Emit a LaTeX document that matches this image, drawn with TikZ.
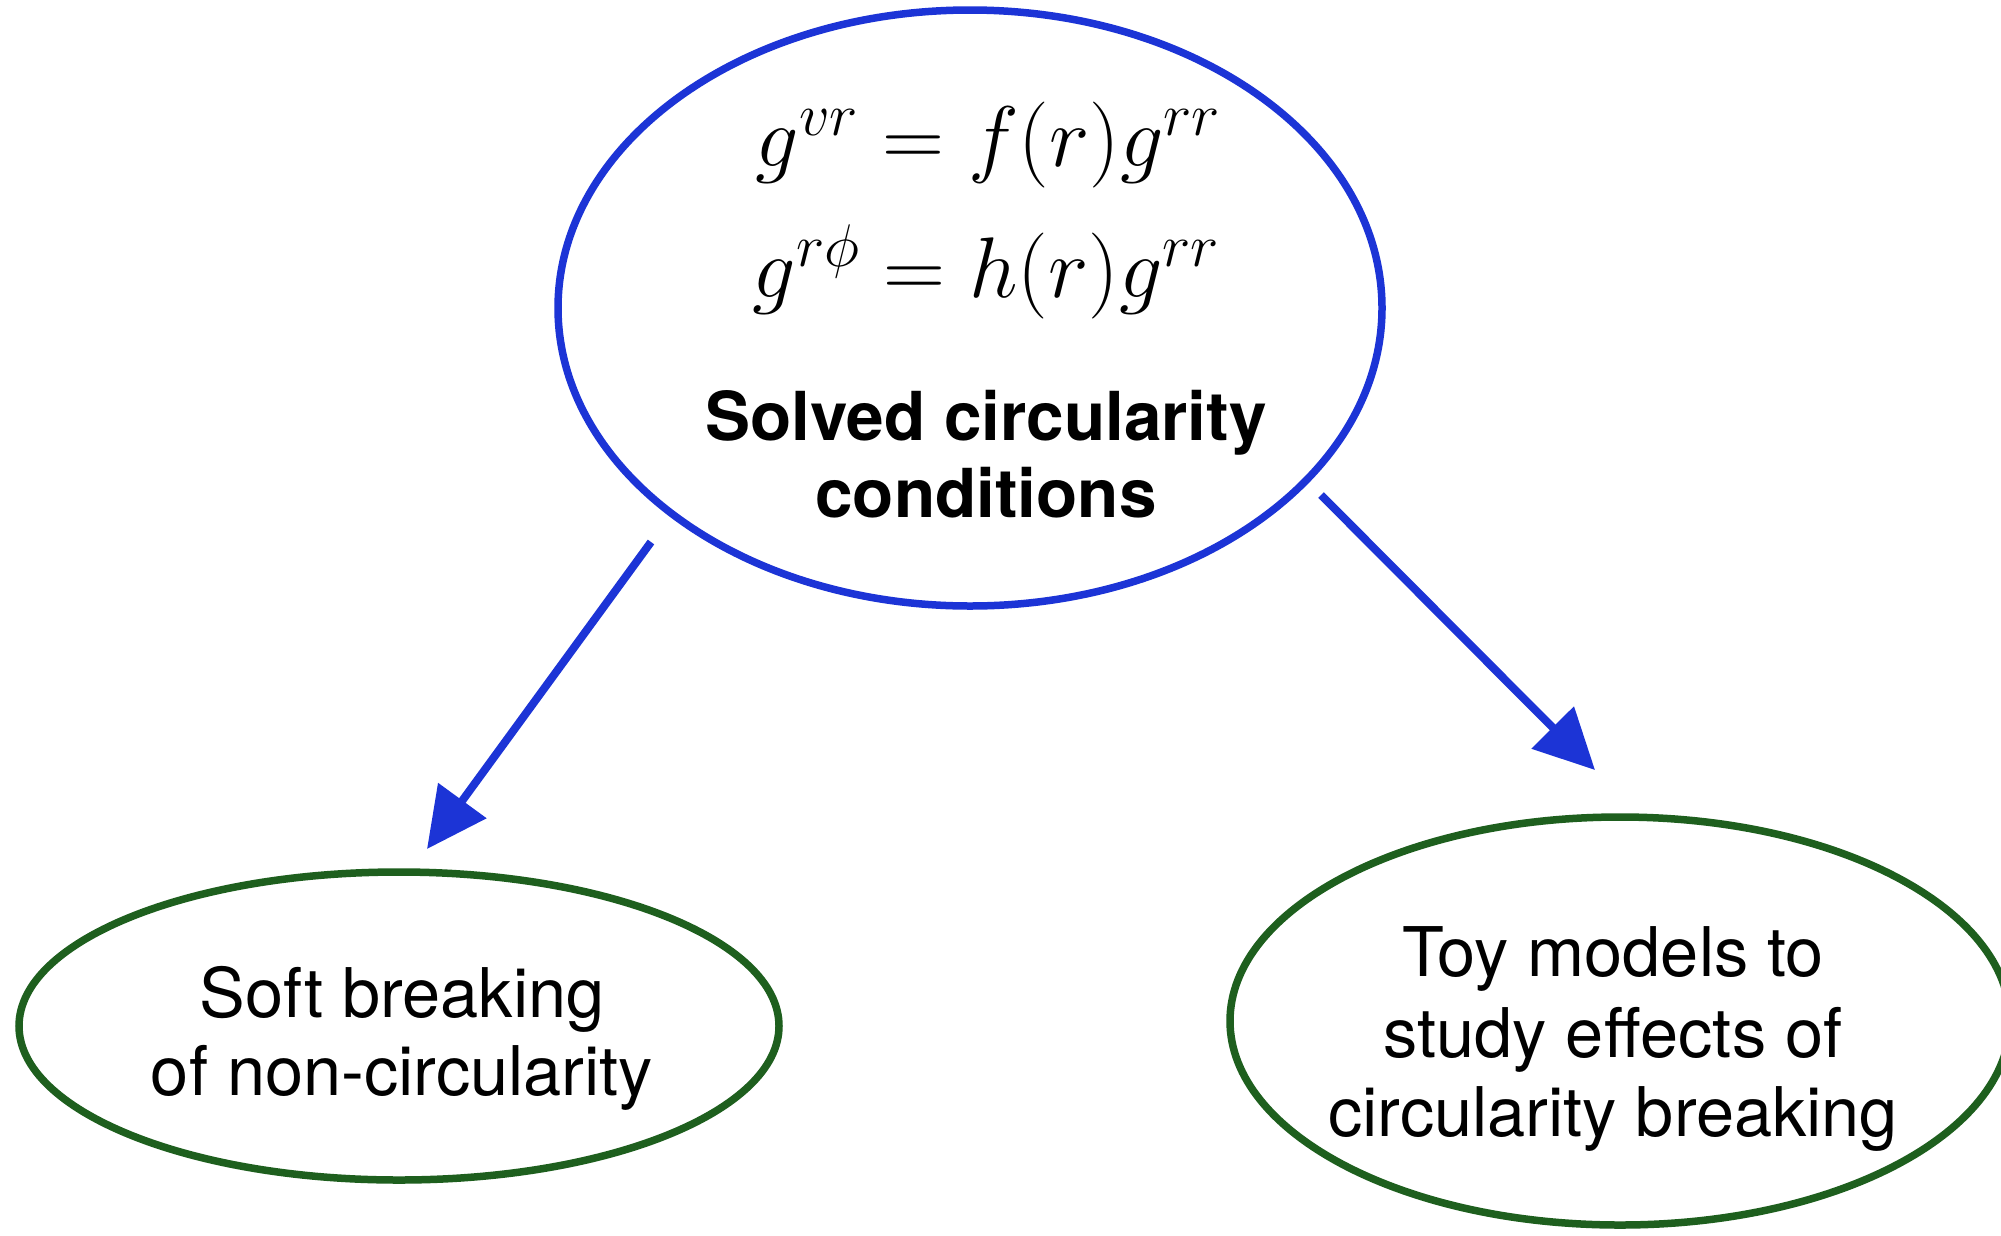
\RequirePackage{fix-cm}
\documentclass[tikz,border=0pt]{standalone}
\usepackage{fontspec}
\setsansfont{TeX Gyre Heros}
\usetikzlibrary{arrows.meta,shapes.geometric}
\definecolor{sblue}{RGB}{28,52,214}
\definecolor{sgreen}{RGB}{30,95,30}
\begin{document}
\begin{tikzpicture}[x=1pt,y=-1pt,
  blueell/.style={draw=sblue,line width=7.5pt,ellipse,inner sep=0pt},
  greenell/.style={draw=sgreen,line width=7.5pt,ellipse,inner sep=0pt},
  mathtxt/.style={inner sep=0pt,font=\fontsize{86}{100}\selectfont},
  boldtxt/.style={inner sep=0pt,anchor=base,font=\sffamily\bfseries\fontsize{67.5}{77}\selectfont},
  plaintxt/.style={inner sep=0pt,anchor=base,font=\sffamily\fontsize{68.5}{80}\selectfont},
  arr/.style={draw=sblue,line width=8pt,-{Triangle[length=60pt,width=58pt]}}]
\useasboundingbox (0,0) rectangle (2001,1235);
\fill[white] (0,0) rectangle (2001,1235);
% ellipses
\node[blueell,minimum width=824pt,minimum height=596pt] (top) at (970,308) {};
\node[greenell,minimum width=760pt,minimum height=308pt] (left) at (399,1026) {};
\node[greenell,minimum width=780pt,minimum height=408pt] (right) at (1620,1021) {};
% top texts
\node[mathtxt] (eq1) at (988,145) {$g^{vr}=f(r)g^{rr}$};
\node[mathtxt] (eq2) at (986,272) {$g^{r\phi}=h(r)g^{rr}$};
\node[boldtxt] (s1) at (986,440) {Solved circularity};
\node[boldtxt] (s2) at (986,517) {conditions};
% left texts
\node[plaintxt] (l1) at (402,1017) {Soft breaking};
\node[plaintxt] (l2) at (402,1095) {of non-circularity};
% right texts
\node[plaintxt] (r1) at (1613,976) {Toy models to};
\node[plaintxt] (r2) at (1613,1057) {study effects of};
\node[plaintxt] (r3) at (1613,1136) {circularity breaking};
% arrows
\coordinate (a1s) at (651,542);
\coordinate (a1e) at (427,849);
\coordinate (a2s) at (1321,495);
\coordinate (a2e) at (1595,770);
\draw[arr] (a1s) -- (a1e);
\draw[arr] (a2s) -- (a2e);
\end{tikzpicture}
\end{document}
